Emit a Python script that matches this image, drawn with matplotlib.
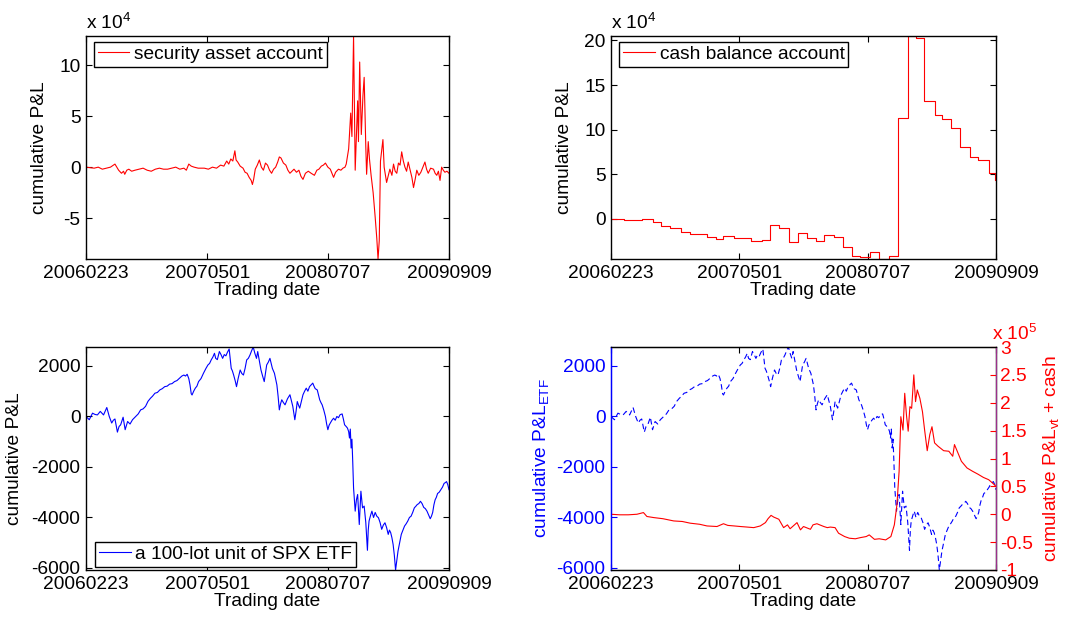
import numpy as np
import matplotlib
matplotlib.use('Agg')
import matplotlib.pyplot as plt
from matplotlib.ticker import FuncFormatter

plt.rcParams['font.family'] = ['Liberation Sans', 'DejaVu Sans']
plt.rcParams['mathtext.fontset'] = 'custom'
plt.rcParams['mathtext.rm'] = 'Liberation Sans'
plt.rcParams['mathtext.it'] = 'Liberation Sans:italic'
plt.rcParams['mathtext.bf'] = 'Liberation Sans:bold'
plt.rcParams['axes.unicode_minus'] = False

FS = 13.8

# ---------------- data ----------------
tick_pos = [0, 297, 593, 890]
tick_labels = ['20060223', '20070501', '20080707', '20090909']

# security asset account cumulative P&L (x 1e4)
sec_day = [0, 10, 20, 30, 40, 50, 60, 71, 77, 80, 87, 92, 95, 100, 105, 112, 120, 130, 140, 150,
           160, 170, 180, 190, 200, 210, 220, 230, 240, 246, 252, 258, 265, 275, 290, 300, 310, 320,
           330, 338, 345, 350, 355, 360, 365, 368, 372, 378, 385, 390, 395, 400, 405, 408, 411, 415,
           420, 425, 430, 435, 440, 445, 450, 455, 460, 465, 470, 474, 478, 484, 490, 495, 500, 505,
           510, 516, 522, 527, 532, 538, 545, 552, 560, 566, 571, 577, 582, 587, 593, 599, 603, 607,
           612, 619, 625, 630, 635, 638, 644, 649, 652, 656, 660, 666, 668, 671, 675, 679, 682, 686,
           688, 692, 695, 699, 704, 709, 713, 716, 719, 722, 728, 731, 737, 745, 750, 754, 758, 762,
           766, 770, 774, 778, 782, 786, 790, 796, 799, 803, 807, 811, 816, 821, 826, 831, 835, 839,
           845, 852, 856, 860, 864, 868, 872, 876, 880, 885, 890]
sec_val = [0.0, -0.05, -0.1, 0.0, -0.2, -0.1, 0.0, 0.3, -0.1, -0.3, -0.6, -0.4, -0.7, -0.3, -0.2,
           -0.4, -0.3, -0.2, -0.1, -0.3, -0.4, -0.2, -0.1, -0.2, -0.2, -0.1, 0.0, -0.2, -0.1, -0.3,
           0.3, 0.1, 0.0, -0.1, -0.1, -0.2, 0.0, -0.1, 0.2, 0.1, 0.6, 0.3, 0.8, 0.6, 1.6, 0.7, 0.5,
           0.1, -0.1, -0.5, -0.6, -1.0, -1.3, -1.7, -1.2, -0.2, 0.2, 0.7, 0.0, -0.3, 0.4, 0.2, -0.3,
           -0.6, -0.2, 0.0, 0.5, 1.0, 0.9, 0.4, 0.2, -0.3, -0.6, -0.4, -0.2, -0.5, -0.3, -0.9, -1.2,
           -0.6, -0.4, -0.6, -0.8, -0.3, -0.2, 0.1, 0.2, 0.4, 0.0, -0.2, -0.6, -1.0, -0.5, -0.2,
           -0.3, -0.1, 0.0, 0.3, 1.8, 5.3, 3.0, 12.85, -0.3, 6.5, 2.5, 10.3, 3.2, 7.0, 8.8, 2.0,
           -0.7, 2.5, 0.8, -0.8, -2.5, -4.9, -7.0, -9.0, -7.2, 0.6, 2.7, 0.0, -1.5, -0.2, -0.8, 0.3,
           -0.4, -0.6, 0.4, 0.2, 1.5, 0.6, 0.0, -0.4, 0.5, -0.5, -1.0, -2.0, -1.2, -0.3, -0.8, -0.5,
           0.0, 0.5, -0.2, -0.6, -0.1, -0.2, -0.6, -0.8, -0.4, -1.3, 0.0, -0.3, -0.5, -0.4, -0.6]

# cash balance account cumulative P&L, step changes (x 1e4)
cash_day = [0, 30, 71, 96, 116, 136, 161, 183, 221, 242, 260, 284, 324, 348, 367, 389, 411, 432,
            454, 474, 492, 516, 537, 557, 576, 598, 619, 642, 663, 686, 706, 724, 749, 766, 785,
            806, 831, 849, 873, 888, 890]
cash_val = [0.0, -0.1, 0.0, -0.4, -0.75, -1.05, -1.5, -1.7, -2.05, -2.25, -1.9, -2.15, -2.45,
            -2.35, -0.65, -1.05, -2.6, -1.6, -2.15, -2.5, -1.85, -2.05, -3.2, -4.2, -4.25, -3.75,
            -4.5, -4.15, 11.3, 20.5, 20.3, 13.2, 11.65, 11.15, 10.15, 8.1, 6.95, 6.6, 5.1, 4.4, 4.4]

# a 100-lot unit of SPX ETF cumulative P&L
etf_day = [0, 8, 16, 22, 28, 35, 43, 51, 57, 63, 67, 71, 77, 81, 85, 91, 96, 102, 108, 114, 122,
           128, 134, 140, 146, 152, 158, 163, 169, 175, 181, 187, 193, 199, 205, 211, 217, 223,
           229, 235, 240, 244, 248, 252, 255, 258, 260, 264, 268, 272, 276, 282, 288, 294, 299,
           303, 307, 311, 315, 318, 322, 327, 331, 335, 339, 343, 347, 351, 356, 359, 362, 366,
           369, 373, 378, 382, 386, 390, 394, 398, 402, 406, 410, 414, 418, 421, 425, 429, 433,
           437, 440, 443, 447, 451, 457, 462, 468, 471, 474, 477, 480, 484, 488, 494, 500, 504,
           507, 512, 515, 518, 521, 524, 528, 532, 536, 540, 544, 548, 552, 556, 559, 562, 567,
           570, 573, 576, 579, 583, 587, 590, 593, 596, 599, 603, 607, 611, 615, 619, 623, 628,
           631, 634, 638, 641, 644, 646, 648, 650, 652, 654, 656, 658, 660, 663, 666, 668, 670,
           672, 674, 676, 678, 682, 686, 690, 692, 694, 698, 701, 705, 709, 713, 717, 721, 725,
           729, 733, 737, 741, 744, 747, 750, 753, 756, 759, 762, 765, 769, 773, 777, 781, 785,
           789, 793, 797, 801, 805, 809, 812, 816, 820, 824, 828, 832, 836, 840, 844, 847, 850,
           853, 856, 859, 862, 866, 870, 874, 878, 881, 884, 887, 890]
etf_val = [0, -130, 130, 80, 60, 200, 60, 355, 0, -260, -150, -100, -620, -400, -330, -30, -525,
           -200, -300, -130, 0, 100, 260, 300, 400, 600, 720, 800, 920, 950, 1050, 1100, 1180,
           1200, 1280, 1300, 1380, 1420, 1510, 1600, 1640, 1600, 1670, 1500, 1250, 900, 850, 1000,
           1120, 1200, 1380, 1500, 1710, 1900, 2040, 2100, 2240, 2350, 2500, 2300, 2250, 2570,
           2450, 2300, 2450, 2400, 2550, 2670, 1910, 1800, 1640, 1400, 1180, 1500, 1840, 1700,
           1640, 1900, 2240, 2300, 2430, 2600, 2750, 2500, 2300, 2570, 2200, 1840, 1600, 1380,
           1700, 2040, 2150, 2300, 1900, 1710, 1250, 800, 260, 500, 660, 550, 460, 700, 860, 600,
           400, -130, 200, 590, 450, 330, 600, 860, 1000, 1120, 1000, 1180, 1250, 1320, 1200,
           1100, 1050, 850, 660, 550, 460, 250, 0, -300, -525, -350, -260, -150, -70, -150, 0,
           -50, 70, 100, -100, -330, -400, -460, -600, -855, -500, -1250, -900, -1800, -2830,
           -3300, -3750, -3300, -3090, -3700, -4280, -3600, -2960, -3300, -3620, -3550, -4200,
           -5300, -4500, -4140, -3900, -3750, -4000, -3800, -3950, -4010, -4200, -4470, -4300,
           -4210, -4400, -4670, -4500, -4600, -4800, -5070, -5500, -6080, -5700, -5330, -5000,
           -4670, -4500, -4340, -4250, -4140, -4000, -3950, -3800, -3620, -3550, -3490, -3450,
           -3360, -3450, -3600, -3650, -3750, -3900, -4050, -3950, -3800, -3500, -3300, -3200,
           -3050, -3000, -2900, -2800, -2650, -2620, -2580, -2700, -2900]

# cumulative P&L_vt + cash (x 1e5)
vt_day = [0, 20, 40, 60, 75, 83, 99, 120, 145, 165, 183, 205, 222, 245, 260, 270, 285, 299, 315,
          330, 345, 357, 363, 370, 376, 388, 399, 408, 414, 430, 438, 445, 461, 467, 476, 492,
          500, 507, 518, 526, 540, 551, 565, 576, 590, 597, 609, 620, 635, 647, 655, 661, 666,
          670, 675, 679, 683, 687, 691, 695, 700, 704, 708, 714, 720, 725, 731, 737, 742, 748,
          756, 769, 781, 790, 794, 802, 810, 823, 836, 848, 861, 873, 882, 890]
vt_val = [0.0, -0.01, -0.01, 0.0, 0.03, -0.04, -0.06, -0.08, -0.12, -0.13, -0.16, -0.18, -0.21,
          -0.22, -0.17, -0.2, -0.21, -0.22, -0.23, -0.24, -0.21, -0.15, -0.08, -0.02, -0.05,
          -0.09, -0.24, -0.19, -0.26, -0.15, -0.28, -0.22, -0.27, -0.19, -0.17, -0.22, -0.24,
          -0.23, -0.24, -0.34, -0.40, -0.43, -0.44, -0.42, -0.40, -0.37, -0.45, -0.44, -0.46,
          -0.40, -0.19, 0.17, 0.77, 1.75, 1.51, 2.17, 1.78, 1.49, 1.93, 1.90, 2.50, 2.02, 2.23,
          2.08, 1.84, 1.51, 1.14, 1.43, 1.57, 1.28, 1.22, 1.14, 1.13, 1.04, 1.25, 1.10, 0.95,
          0.83, 0.77, 0.72, 0.66, 0.62, 0.56, 0.50]

# ---------------- figure ----------------
fig = plt.figure(figsize=(10.8, 6.2), dpi=100)
W, H = 1080.0, 620.0


def add_ax(x0, x1, y0, y1):
    return fig.add_axes([x0 / W, 1 - y1 / H, (x1 - x0) / W, (y1 - y0) / H])


def style(ax):
    ax.set_xlim(tick_pos[0], tick_pos[-1])
    ax.set_xticks(tick_pos)
    ax.set_xticklabels(tick_labels)
    ax.tick_params(direction='in', length=4, width=0.8, labelsize=FS, top=True, right=True,
                   pad=4)
    for s in ax.spines.values():
        s.set_linewidth(1.0)
    ax.set_xlabel('Trading date', fontsize=FS, labelpad=0)


def sci_fmt(p):
    return FuncFormatter(lambda v, pos: '%g' % (v / 10 ** p))


def legend(ax, loc, anchor):
    lg = ax.legend(loc=loc, bbox_to_anchor=anchor, borderaxespad=0, fontsize=FS,
                   frameon=True, fancybox=False, edgecolor='black', handlelength=1.65,
                   handletextpad=0.25, borderpad=0.2, framealpha=1)
    lg.get_frame().set_linewidth(1.0)


# top-left: security asset account
ax1 = add_ax(86, 449, 36, 259)
y1 = np.array(sec_val) * 1e4
ax1.plot(sec_day, y1, color='red', lw=0.8, label='security asset account')
ax1.set_ylim(y1.min(), y1.max())
ax1.set_yticks(np.array([-5, 0, 5, 10]) * 1e4)
ax1.yaxis.set_major_formatter(sci_fmt(4))
style(ax1)
ax1.set_ylabel('cumulative P&L', fontsize=FS, labelpad=8)
ax1.text(0, 1.012, 'x 10$^4$', transform=ax1.transAxes, fontsize=FS, ha='left', va='bottom')
legend(ax1, 'upper left', (0.022, 0.975))

# top-right: cash balance account
ax2 = add_ax(611, 996, 36, 259)
y2 = np.array(cash_val) * 1e4
ax2.step(cash_day, y2, where='post', color='red', lw=0.8, label='cash balance account')
ax2.set_ylim(y2.min(), y2.max())
ax2.set_yticks(np.array([0, 5, 10, 15, 20]) * 1e4)
ax2.yaxis.set_major_formatter(sci_fmt(4))
style(ax2)
ax2.set_ylabel('cumulative P&L', fontsize=FS, labelpad=8)
ax2.text(0, 1.012, 'x 10$^4$', transform=ax2.transAxes, fontsize=FS, ha='left', va='bottom')
legend(ax2, 'upper left', (0.022, 0.975))

# bottom-left: ETF
ax3 = add_ax(86, 449, 347, 570)
y3 = np.array(etf_val, dtype=float)
ax3.plot(etf_day, y3, color='blue', lw=0.8, label='a 100-lot unit of SPX ETF')
ax3.set_ylim(y3.min(), y3.max())
ax3.set_yticks([-6000, -4000, -2000, 0, 2000])
style(ax3)
ax3.set_ylabel('cumulative P&L', fontsize=FS, labelpad=6)
legend(ax3, 'lower left', (0.025, 0.015))

# bottom-right: plotyy
ax4 = add_ax(611, 996, 347, 570)
ax4.plot(etf_day, y3, color='blue', lw=0.8, dashes=(5, 3))
ax4.set_ylim(y3.min(), y3.max())
ax4.set_yticks([-6000, -4000, -2000, 0, 2000])
style(ax4)
ax4.tick_params(axis='y', colors='blue', right=False)
ax4.spines['left'].set_color('blue')
ax4.set_ylabel('cumulative P&L$_{\\mathrm{ETF}}$', fontsize=FS, color='blue', labelpad=4)

ax5 = ax4.twinx()
y5 = np.array(vt_val) * 1e5
ax5.plot(vt_day, y5, color='red', lw=0.8)
ax5.set_ylim(-1e5, 3e5)
ax5.set_yticks(np.arange(-1, 3.01, 0.5) * 1e5)
ax5.yaxis.set_major_formatter(sci_fmt(5))
ax5.tick_params(axis='y', direction='in', length=4, width=0.8, labelsize=FS, colors='red',
                pad=3)
ax5.spines['right'].set_color('#9c2f8c')
ax5.spines['left'].set_color('blue')
ax5.set_ylabel('cumulative P&L$_{\\mathrm{vt}}$ + cash', fontsize=FS, color='red', labelpad=6)
ax5.text(0.99, 1.012, 'x 10$^5$', transform=ax5.transAxes, fontsize=FS, ha='left',
         va='bottom', color='red')

fig.savefig('out.png', dpi=100, facecolor='white')
